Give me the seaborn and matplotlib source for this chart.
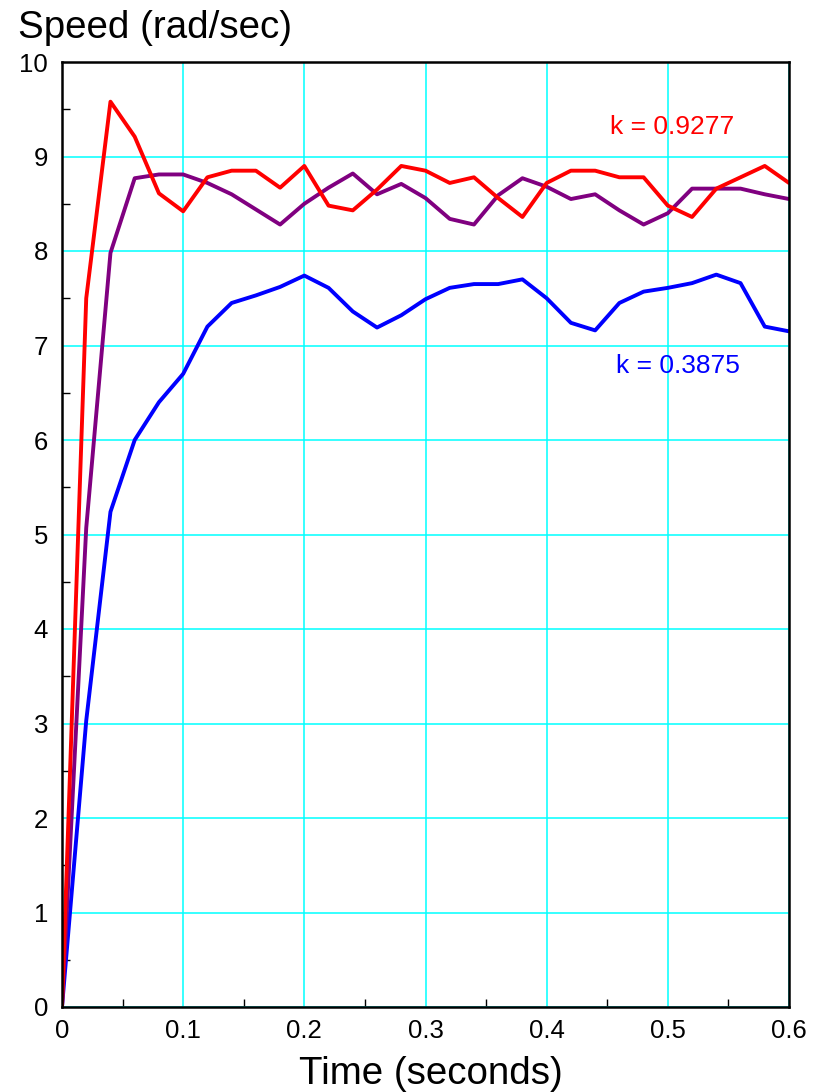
import numpy as np
import pandas as pd
import matplotlib
matplotlib.use("Agg")
import matplotlib.pyplot as plt
import seaborn as sns
from matplotlib.ticker import MultipleLocator

# Sampled motor speed response (rad/sec) every 0.02 s
time_s = [0.00, 0.02, 0.04, 0.06, 0.08, 0.10, 0.12, 0.14, 0.16, 0.18,
          0.20, 0.22, 0.24, 0.26, 0.28, 0.30, 0.32, 0.34, 0.36, 0.38,
          0.40, 0.42, 0.44, 0.46, 0.48, 0.50, 0.52, 0.54, 0.56, 0.58, 0.60]

speed_k_high = [0.00, 7.50, 9.58, 9.21, 8.61, 8.42, 8.78, 8.85, 8.85, 8.67,
                8.90, 8.48, 8.43, 8.65, 8.90, 8.85, 8.72, 8.78, 8.56, 8.36,
                8.72, 8.85, 8.85, 8.78, 8.78, 8.48, 8.36, 8.66, 8.78, 8.90, 8.72]

speed_k_mid = [0.00, 5.07, 7.98, 8.77, 8.81, 8.81, 8.72, 8.60, 8.44, 8.28,
               8.50, 8.67, 8.82, 8.60, 8.71, 8.56, 8.34, 8.28, 8.59, 8.77,
               8.68, 8.55, 8.60, 8.43, 8.28, 8.40, 8.66, 8.66, 8.66, 8.60, 8.55]

speed_k_low = [0.00, 3.03, 5.24, 6.00, 6.40, 6.70, 7.20, 7.45, 7.53, 7.62,
               7.74, 7.61, 7.36, 7.19, 7.32, 7.49, 7.61, 7.65, 7.65, 7.70,
               7.50, 7.24, 7.16, 7.45, 7.57, 7.61, 7.66, 7.75, 7.66, 7.20, 7.15]

series_names = ["k = 0.3875", "mid", "k = 0.9277"]
series_colors = {"k = 0.3875": "#0000FF", "mid": "#800080", "k = 0.9277": "#FF0000"}

x_ticks = [0, 0.1, 0.2, 0.3, 0.4, 0.5, 0.6]
x_tick_labels = ["0", "0.1", "0.2", "0.3", "0.4", "0.5", "0.6"]
y_ticks = list(range(0, 11))

df = pd.concat([
    pd.DataFrame({"t": time_s, "speed": speed_k_low, "series": series_names[0]}),
    pd.DataFrame({"t": time_s, "speed": speed_k_mid, "series": series_names[1]}),
    pd.DataFrame({"t": time_s, "speed": speed_k_high, "series": series_names[2]}),
], ignore_index=True)

sns.set_style("white")
plt.rcParams["font.family"] = ["Liberation Sans", "DejaVu Sans"]
plt.rcParams["text.color"] = "black"
plt.rcParams["axes.labelcolor"] = "black"
plt.rcParams["xtick.color"] = "black"
plt.rcParams["ytick.color"] = "black"

fig = plt.figure(figsize=(8.31, 10.92), dpi=100)
ax = fig.add_axes([62 / 831, 1 - 1007 / 1092, 727 / 831, 945 / 1092])

sns.lineplot(data=df, x="t", y="speed", hue="series", hue_order=series_names,
             palette=series_colors, linewidth=2.8, legend=False, ax=ax,
             estimator=None, sort=False)

ax.set_xlim(0, 0.6)
ax.set_ylim(0, 10)
ax.set_xticks(x_ticks)
ax.set_xticklabels(x_tick_labels)
ax.set_yticks(y_ticks)
ax.xaxis.set_minor_locator(MultipleLocator(0.05))
ax.yaxis.set_minor_locator(MultipleLocator(0.5))

ax.grid(True, which="major", color="#00FFFF", linewidth=1.1)
ax.set_axisbelow(True)

ax.tick_params(which="major", length=0, labelsize=18.5, pad=10,
               colors="black", labelcolor="black")
ax.tick_params(which="minor", direction="in", length=6, width=1.0,
               bottom=True, left=True, top=False, right=False, color="black")
ax.tick_params(axis="x", which="major", pad=9)

for s in ax.spines.values():
    s.set_visible(True)
    s.set_color("black")
    s.set_linewidth(1.8)

ax.set_xlabel("Time (seconds)", fontsize=27.7, labelpad=9, color="black")
ax.xaxis.label.set_x(0.508)
ax.set_ylabel("")

fig.text(18 / 831, 1 - 38 / 1092, "Speed (rad/sec)", fontsize=27.7,
         ha="left", va="baseline", color="black")

ax.text(0.4523, 9.31, "k = 0.9277", color="#FF0000", fontsize=19,
        ha="left", va="center")
ax.text(0.457, 6.78, "k = 0.3875", color="#0000FF", fontsize=19,
        ha="left", va="center")

fig.savefig("out.png", dpi=100)
